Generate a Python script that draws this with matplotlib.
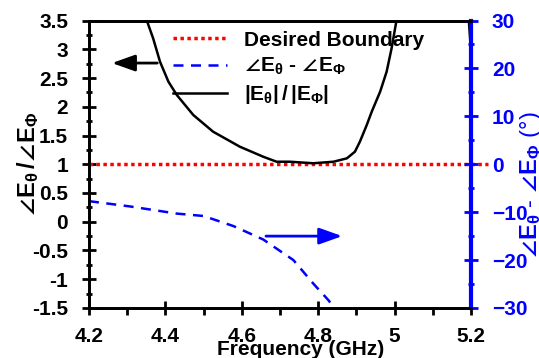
import numpy as np
import matplotlib
matplotlib.use('Agg')
import matplotlib.pyplot as plt
from matplotlib.ticker import MultipleLocator

plt.rcParams['font.family'] = ['Liberation Sans', 'DejaVu Sans']
plt.rcParams['font.weight'] = 'bold'
plt.rcParams['mathtext.fontset'] = 'custom'
plt.rcParams['mathtext.rm'] = 'Liberation Sans:bold'
plt.rcParams['mathtext.it'] = 'Liberation Sans:bold'
plt.rcParams['mathtext.bf'] = 'Liberation Sans:bold'
plt.rcParams['mathtext.fallback'] = 'stixsans'

# |E_theta| / |E_phi| (left axis)
freq_ratio = [4.351, 4.368, 4.386, 4.408, 4.430, 4.473, 4.525, 4.595, 4.656, 4.691,
              4.726, 4.787, 4.840, 4.875, 4.896, 4.909, 4.927, 4.940, 4.962, 4.979,
              4.992, 5.005, np.nan, 5.193, 5.200]
ratio = [3.509, 3.190, 2.783, 2.436, 2.204, 1.857, 1.566, 1.305, 1.131, 1.044,
         1.044, 1.017, 1.044, 1.103, 1.218, 1.392, 1.683, 1.914, 2.262, 2.610,
         3.017, 3.509, np.nan, 3.600, 2.950]

# phase difference (right axis, degrees)
freq_phase = [4.200, 4.307, 4.430, 4.500, 4.578, 4.656, 4.735, 4.787, 4.827, 4.842]
phase_diff = [-7.7, -8.8, -10.3, -10.8, -12.9, -15.7, -20.0, -24.9, -28.4, -30.0]

boundary_x = [4.2, 5.245]
boundary_y = [1.0, 1.0]

fig = plt.figure(figsize=(5.39, 3.58), dpi=100)
ax = fig.add_axes([0.165, 0.1397, 0.709, 0.803])
ax2 = ax.twinx()

l1, = ax.plot(boundary_x, boundary_y, color='red', ls=(0, (1, 1)), lw=2.5, clip_on=False,
              label='Desired Boundary')
l2, = ax2.plot(freq_phase, phase_diff, color='blue', ls=(0, (4, 3)), lw=1.8,
               label=r'$\angle\mathrm{E}_{\theta}$ - $\angle\mathrm{E}_{\Phi}$')
l3, = ax.plot(freq_ratio, ratio, color='black', lw=1.8,
              label=r'$|\mathrm{E}_{\theta}|\,/\,|\mathrm{E}_{\Phi}|$')

ax.set_xlim(4.2, 5.2)
ax.set_ylim(-1.5, 3.5)
ax2.set_ylim(-30, 30)

ax.xaxis.set_minor_locator(MultipleLocator(0.1))
ax.yaxis.set_minor_locator(MultipleLocator(0.25))
ax2.yaxis.set_major_locator(MultipleLocator(10))
ax2.yaxis.set_minor_locator(MultipleLocator(5))

ax.set_xticks([4.2, 4.4, 4.6, 4.8, 5.0, 5.2])
ax.set_xticklabels(['4.2', '4.4', '4.6', '4.8', '5', '5.2'])
ax.set_yticks([-1.5, -1, -0.5, 0, 0.5, 1, 1.5, 2, 2.5, 3, 3.5])
ax.set_yticklabels(['-1.5', '-1', '-0.5', '0', '0.5', '1', '1.5', '2', '2.5', '3', '3.5'])

ax.tick_params(axis='x', which='major', direction='inout', length=10, width=2,
               labelsize=15, pad=9)
ax.tick_params(axis='x', which='minor', direction='out', length=5, width=2)
ax.tick_params(axis='y', which='major', direction='inout', length=10, width=2,
               labelsize=15, pad=10)
ax.tick_params(axis='y', which='minor', direction='inout', length=5, width=2)
ax2.tick_params(axis='y', which='major', direction='inout', length=10, width=2,
                labelsize=15, pad=10, colors='blue')
ax2.tick_params(axis='y', which='minor', direction='inout', length=5, width=2,
                colors='blue')

for s in ['left', 'top', 'bottom']:
    ax.spines[s].set_linewidth(2)
    ax2.spines[s].set_linewidth(2)
ax2.spines['right'].set_color('blue')
ax2.spines['right'].set_linewidth(3)
ax.spines['right'].set_visible(False)

ax.set_xlabel('Frequency (GHz)', fontsize=15, fontweight='bold')
ax.xaxis.set_label_coords(0.555, -0.11)
ax.set_ylabel(r'$\angle\mathrm{E}_{\theta}\,/\angle\mathrm{E}_{\Phi}$', fontsize=17)
ax.yaxis.set_label_coords(-0.125, 0.5)
ax2.set_ylabel(r'$\angle\mathrm{E}_{\theta}$ - $\angle\mathrm{E}_{\Phi}$ (°)', fontsize=17,
               color='blue')
ax2.yaxis.set_label_coords(1.123, 0.43)

# direction arrows
ax.annotate('', xy=(4.253, 2.76), xytext=(4.386, 2.76),
            arrowprops=dict(arrowstyle='-|>,head_length=1.4,head_width=0.5',
                            color='black', lw=2))
ax2.annotate('', xy=(4.87, -15.0), xytext=(4.656, -15.0),
             arrowprops=dict(arrowstyle='-|>,head_length=1.4,head_width=0.5',
                             color='blue', lw=2))

leg = ax2.legend([l1, l2, l3], [l1.get_label(), l2.get_label(), l3.get_label()],
                 loc='upper left', bbox_to_anchor=(0.22, 0.965), frameon=False,
                 fontsize=15, handlelength=2.6, handletextpad=0.8,
                 labelspacing=0.3, borderpad=0, borderaxespad=0)

fig.savefig('out.png', dpi=100)
